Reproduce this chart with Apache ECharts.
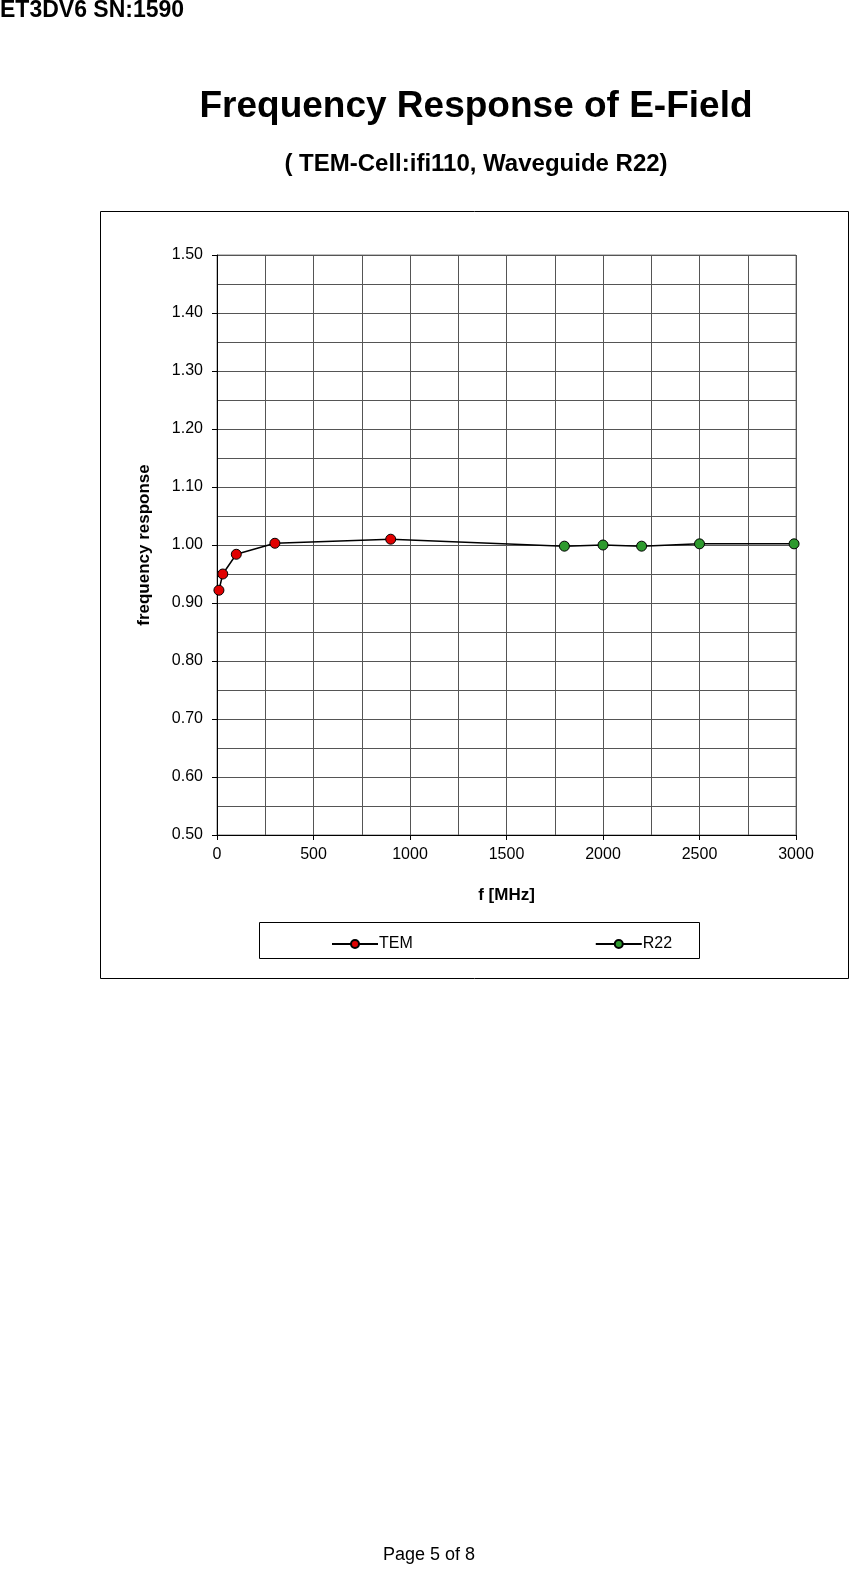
<!DOCTYPE html>
<html><head><meta charset="utf-8">
<script src="https://cdn.jsdelivr.net/npm/echarts@6/dist/echarts.min.js"></script>
<style>body{margin:0;background:#fff}#c{width:851px;height:1570px}</style></head>
<body><div id="c"></div>
<script>
const temX=[10,30,100,300,900];
const temY=[0.922,0.950,0.984,1.003,1.010];
const r22X=[1800,2000,2200,2500,2990];
const r22Y=[0.998,1.000,0.998,1.002,1.002];
const xTicks=[0,500,1000,1500,2000,2500,3000];
const ff='Liberation Sans, Arial, sans-serif';
const ch=echarts.init(document.getElementById('c'));
const mk=(c)=>({symbol:'circle',symbolSize:10,itemStyle:{color:c,borderColor:'#000',borderWidth:1},lineStyle:{color:'#000',width:1.5}});
ch.setOption({
 animation:false,
 graphic:[
  {type:'text',left:0,top:-1,style:{text:'ET3DV6 SN:1590',font:'bold 23px '+ff,fill:'#000'}},
  {type:'text',x:476,y:88,style:{text:'Frequency Response of E-Field',font:'bold 37px '+ff,fill:'#000',align:'center'}},
  {type:'text',x:476,y:152,style:{text:'( TEM-Cell:ifi110, Waveguide R22)',font:'bold 24px '+ff,fill:'#000',align:'center'}},
  {type:'rect',shape:{x:100.5,y:211.5,width:748,height:767},style:{fill:'none',stroke:'#000',lineWidth:1},z:-1},
  {type:'rect',shape:{x:259.5,y:922.5,width:440,height:36},style:{fill:'none',stroke:'#000',lineWidth:1}},
  {type:'text',x:429,y:1546,style:{text:'Page 5 of 8',font:'18px '+ff,fill:'#000',align:'center'}}
 ],
 grid:{left:217,top:255,right:55,bottom:735,show:true,borderColor:'#808080',borderWidth:1},
 legend:{top:931,left:326,itemGap:182,itemWidth:46,itemHeight:10,textStyle:{fontFamily:ff,fontSize:16,color:'#000',padding:[0,0,0,-4]},data:['TEM','R22']},
 xAxis:{type:'value',min:0,max:3000,interval:500,name:'f [MHz]',nameLocation:'middle',nameGap:52,
  nameTextStyle:{fontFamily:ff,fontSize:17,fontWeight:'bold',color:'#000'},
  axisLine:{lineStyle:{color:'#000'}},axisTick:{show:true,lineStyle:{color:'#000'}},
  axisLabel:{fontFamily:ff,fontSize:16,color:'#000',margin:12,formatter:v=>xTicks.includes(v)?String(v):''},
  splitLine:{show:true,lineStyle:{color:'#555',width:1}},
  minorTick:{show:false,splitNumber:2},minorSplitLine:{show:true,lineStyle:{color:'#555',width:1}}},
 yAxis:{type:'value',min:0.5,max:1.5,interval:0.1,name:'frequency response',nameLocation:'middle',nameGap:64,
  nameTextStyle:{fontFamily:ff,fontSize:17,fontWeight:'bold',color:'#000'},
  axisLine:{show:true,lineStyle:{color:'#000'}},axisTick:{show:true,lineStyle:{color:'#000'}},
  axisLabel:{fontFamily:ff,fontSize:16,color:'#000',margin:14,formatter:v=>v.toFixed(2)},
  splitLine:{show:true,lineStyle:{color:'#555',width:1}},
  minorTick:{show:false,splitNumber:2},minorSplitLine:{show:true,lineStyle:{color:'#555',width:1}}},
 series:[
  {name:'link',type:'line',symbol:'none',lineStyle:{color:'#000',width:1.5},data:[[temX[temX.length-1],temY[temY.length-1]],[r22X[0],r22Y[0]]],z:1},
  Object.assign({name:'TEM',type:'line',data:temX.map((x,i)=>[x,temY[i]]),z:3},mk('#e00000')),
  Object.assign({name:'R22',type:'line',data:r22X.map((x,i)=>[x,r22Y[i]]),z:3},mk('#2e9a2e'))
 ]
});
</script></body></html>
